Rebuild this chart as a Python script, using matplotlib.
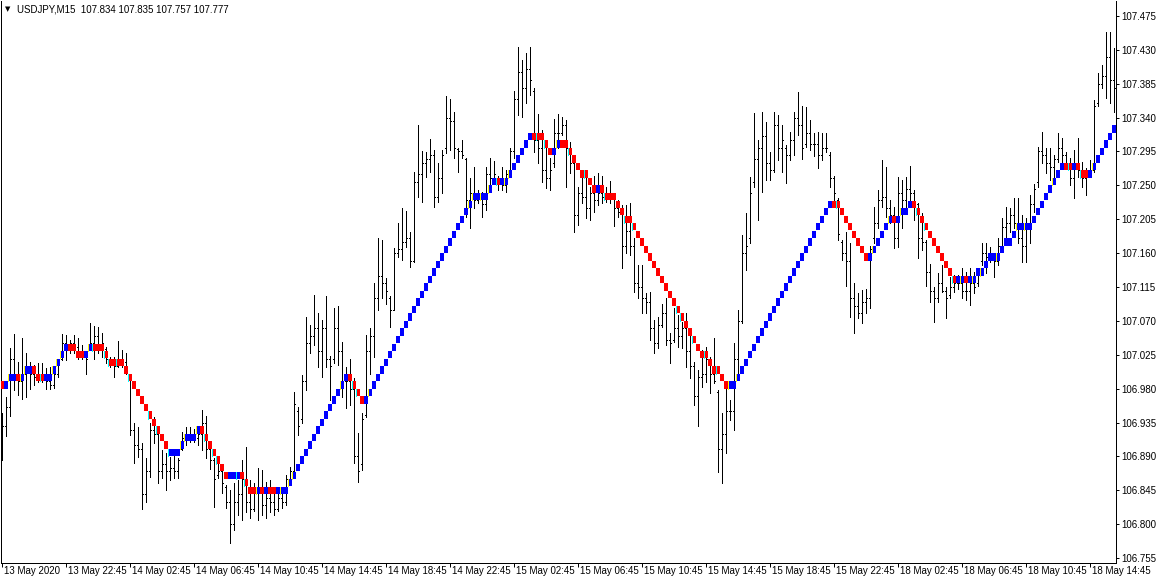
import matplotlib
matplotlib.use("Agg")
import matplotlib.pyplot as plt
import numpy as np
from matplotlib.transforms import offset_copy

# ---------------- data (USDJPY, M15) ----------------
bar_high = [
    106.947, 106.969, 107.034, 107.052, 107.015, 107.047, 107.027, 107.015, 107.011, 107.014,
    107.014, 107.007, 107.009, 107.005, 107.019, 107.052, 107.051, 107.044, 107.051, 107.047,
    107.038, 107.024, 107.067, 107.063, 107.062, 107.054, 107.035, 107.022, 107.022, 107.043,
    107.031, 107.027, 106.998, 106.934, 106.929, 106.908, 106.888, 106.934, 106.942, 106.931,
    106.898, 106.894, 106.889, 106.892, 106.888, 106.922, 106.929, 106.929, 106.927, 106.925,
    106.951, 106.943, 106.908, 106.888, 106.888, 106.876, 106.852, 106.845, 106.854, 106.858,
    106.885, 106.902, 106.858, 106.854, 106.874, 106.872, 106.856, 106.858, 106.845, 106.841,
    106.841, 106.865, 106.876, 106.975, 106.955, 106.998, 107.075, 107.064, 107.104, 107.081,
    107.071, 107.103, 107.024, 107.087, 107.090, 107.042, 107.009, 107.020, 106.994, 106.921,
    106.947, 107.051, 107.060, 107.120, 107.180, 107.177, 107.127, 107.103, 107.167, 107.200,
    107.220, 107.216, 107.188, 107.268, 107.330, 107.295, 107.294, 107.311, 107.297, 107.280,
    107.297, 107.369, 107.365, 107.347, 107.299, 107.310, 107.287, 107.260, 107.274, 107.244,
    107.241, 107.274, 107.286, 107.282, 107.263, 107.274, 107.270, 107.299, 107.376, 107.434,
    107.416, 107.426, 107.434, 107.380, 107.345, 107.323, 107.303, 107.286, 107.338, 107.345,
    107.341, 107.337, 107.307, 107.284, 107.248, 107.270, 107.261, 107.248, 107.263, 107.266,
    107.263, 107.248, 107.256, 107.240, 107.230, 107.224, 107.224, 107.226, 107.180, 107.144,
    107.144, 107.107, 107.108, 107.071, 107.075, 107.093, 107.100, 107.054, 107.087, 107.078,
    107.068, 107.081, 107.051, 107.015, 107.005, 107.031, 107.035, 107.022, 107.047, 106.978,
    106.947, 106.981, 106.965, 107.040, 107.084, 107.184, 107.213, 107.261, 107.346, 107.310,
    107.347, 107.334, 107.294, 107.347, 107.343, 107.330, 107.303, 107.321, 107.347, 107.374,
    107.356, 107.354, 107.337, 107.319, 107.321, 107.319, 107.319, 107.294, 107.263, 107.233,
    107.177, 107.188, 107.173, 107.120, 107.107, 107.111, 107.113, 107.170, 107.221, 107.244,
    107.284, 107.274, 107.230, 107.221, 107.261, 107.257, 107.261, 107.276, 107.244, 107.226,
    107.213, 107.177, 107.146, 107.115, 107.133, 107.144, 107.115, 107.128, 107.131, 107.131,
    107.140, 107.135, 107.140, 107.135, 107.140, 107.173, 107.173, 107.168, 107.160, 107.180,
    107.206, 107.221, 107.220, 107.233, 107.233, 107.210, 107.206, 107.237, 107.252, 107.301,
    107.321, 107.299, 107.299, 107.290, 107.319, 107.313, 107.294, 107.287, 107.297, 107.313,
    107.281, 107.273, 107.284, 107.363, 107.399, 107.410, 107.454, 107.454, 107.432, 107.430,
]
bar_low = [
    106.885, 106.917, 106.943, 106.978, 106.971, 106.966, 106.969, 106.979, 106.985, 106.989,
    106.989, 106.979, 106.979, 106.981, 106.995, 107.018, 107.018, 107.027, 107.028, 107.019,
    107.019, 106.999, 107.031, 107.019, 107.028, 107.022, 107.014, 107.009, 106.995, 107.009,
    107.009, 107.000, 106.918, 106.881, 106.889, 106.820, 106.829, 106.862, 106.908, 106.854,
    106.861, 106.845, 106.858, 106.861, 106.861, 106.898, 106.905, 106.909, 106.909, 106.905,
    106.898, 106.888, 106.873, 106.823, 106.861, 106.842, 106.821, 106.775, 106.792, 106.812,
    106.805, 106.816, 106.808, 106.818, 106.805, 106.812, 106.808, 106.816, 106.812, 106.818,
    106.821, 106.825, 106.856, 106.868, 106.918, 106.934, 106.978, 107.027, 107.038, 107.009,
    106.995, 107.009, 106.965, 107.014, 107.011, 106.969, 106.954, 106.958, 106.881, 106.856,
    106.872, 106.942, 107.000, 107.022, 107.084, 107.101, 107.093, 107.062, 107.084, 107.155,
    107.151, 107.168, 107.141, 107.148, 107.234, 107.228, 107.261, 107.268, 107.221, 107.228,
    107.240, 107.293, 107.297, 107.287, 107.268, 107.287, 107.208, 107.193, 107.220, 107.226,
    107.208, 107.217, 107.250, 107.254, 107.244, 107.244, 107.241, 107.266, 107.287, 107.343,
    107.341, 107.360, 107.370, 107.294, 107.280, 107.254, 107.246, 107.244, 107.274, 107.299,
    107.317, 107.248, 107.266, 107.188, 107.197, 107.226, 107.206, 107.204, 107.214, 107.224,
    107.226, 107.228, 107.226, 107.196, 107.208, 107.140, 107.160, 107.157, 107.108, 107.101,
    107.080, 107.080, 107.044, 107.028, 107.034, 107.062, 107.038, 107.014, 107.042, 107.035,
    107.034, 107.009, 106.994, 106.958, 106.931, 106.982, 106.989, 106.974, 106.987, 106.869,
    106.854, 106.894, 106.938, 106.925, 106.995, 107.067, 107.137, 107.173, 107.248, 107.204,
    107.241, 107.257, 107.257, 107.268, 107.284, 107.268, 107.253, 107.284, 107.290, 107.317,
    107.285, 107.301, 107.297, 107.289, 107.273, 107.284, 107.294, 107.248, 107.224, 107.177,
    107.151, 107.117, 107.075, 107.054, 107.074, 107.067, 107.080, 107.087, 107.173, 107.194,
    107.221, 107.208, 107.200, 107.167, 107.168, 107.193, 107.220, 107.224, 107.204, 107.153,
    107.164, 107.117, 107.095, 107.068, 107.095, 107.108, 107.074, 107.100, 107.108, 107.113,
    107.101, 107.098, 107.091, 107.107, 107.117, 107.144, 107.133, 107.148, 107.128, 107.144,
    107.161, 107.177, 107.188, 107.194, 107.173, 107.148, 107.148, 107.173, 107.214, 107.248,
    107.280, 107.266, 107.257, 107.261, 107.281, 107.277, 107.273, 107.250, 107.233, 107.261,
    107.248, 107.237, 107.261, 107.268, 107.356, 107.380, 107.366, 107.360, 107.347, 107.350,
]
bar_open = [
    106.900, 106.930, 106.955, 107.020, 106.995, 106.990, 107.000, 107.005, 107.000, 106.995,
    107.000, 106.995, 106.990, 106.985, 107.000, 107.020, 107.040, 107.035, 107.040, 107.035,
    107.030, 107.022, 107.033, 107.040, 107.050, 107.035, 107.033, 107.020, 107.015, 107.010,
    107.020, 107.015, 106.995, 106.925, 106.905, 106.900, 106.840, 106.870, 106.925, 106.920,
    106.870, 106.880, 106.870, 106.875, 106.870, 106.900, 106.915, 106.920, 106.915, 106.915,
    106.920, 106.935, 106.900, 106.885, 106.865, 106.870, 106.850, 106.830, 106.800, 106.830,
    106.840, 106.860, 106.830, 106.820, 106.845, 106.850, 106.825, 106.835, 106.830, 106.820,
    106.835, 106.830, 106.860, 106.870, 106.950, 106.940, 106.990, 107.040, 107.050, 107.060,
    107.030, 107.060, 107.020, 107.020, 107.060, 107.030, 106.990, 106.990, 106.980, 106.890,
    106.880, 106.945, 107.030, 107.050, 107.100, 107.130, 107.120, 107.100, 107.085, 107.160,
    107.165, 107.175, 107.180, 107.150, 107.255, 107.265, 107.280, 107.285, 107.290, 107.235,
    107.260, 107.300, 107.340, 107.335, 107.298, 107.295, 107.285, 107.230, 107.240, 107.230,
    107.235, 107.225, 107.265, 107.260, 107.260, 107.255, 107.250, 107.270, 107.295, 107.365,
    107.400, 107.380, 107.405, 107.375, 107.310, 107.300, 107.270, 107.260, 107.280, 107.320,
    107.320, 107.330, 107.300, 107.280, 107.210, 107.240, 107.235, 107.220, 107.240, 107.230,
    107.240, 107.235, 107.240, 107.235, 107.220, 107.215, 107.170, 107.190, 107.170, 107.120,
    107.115, 107.100, 107.095, 107.060, 107.040, 107.065, 107.080, 107.045, 107.045, 107.060,
    107.050, 107.060, 107.030, 107.010, 106.970, 106.995, 107.000, 107.020, 107.000, 106.975,
    106.900, 106.920, 106.950, 106.950, 107.020, 107.070, 107.160, 107.180, 107.255, 107.285,
    107.300, 107.315, 107.280, 107.270, 107.330, 107.300, 107.300, 107.290, 107.310, 107.340,
    107.330, 107.305, 107.320, 107.305, 107.305, 107.290, 107.300, 107.290, 107.260, 107.230,
    107.175, 107.160, 107.150, 107.100, 107.090, 107.080, 107.095, 107.100, 107.180, 107.200,
    107.230, 107.235, 107.220, 107.210, 107.180, 107.240, 107.230, 107.245, 107.240, 107.225,
    107.180, 107.175, 107.135, 107.110, 107.100, 107.120, 107.110, 107.105, 107.115, 107.120,
    107.120, 107.110, 107.110, 107.120, 107.120, 107.150, 107.160, 107.155, 107.155, 107.150,
    107.170, 107.195, 107.200, 107.210, 107.200, 107.180, 107.170, 107.200, 107.225, 107.255,
    107.295, 107.290, 107.280, 107.275, 107.285, 107.300, 107.290, 107.280, 107.260, 107.280,
    107.270, 107.260, 107.265, 107.270, 107.360, 107.385, 107.395, 107.420, 107.390, 107.380,
]
bar_close = [
    106.930, 106.955, 107.020, 106.995, 106.990, 107.000, 107.005, 107.000, 106.995, 107.000,
    106.995, 106.990, 106.985, 107.000, 107.015, 107.040, 107.035, 107.040, 107.035, 107.030,
    107.025, 107.020, 107.040, 107.050, 107.035, 107.040, 107.020, 107.015, 107.010, 107.020,
    107.015, 107.005, 106.925, 106.905, 106.900, 106.840, 106.870, 106.925, 106.920, 106.870,
    106.880, 106.870, 106.875, 106.870, 106.885, 106.915, 106.920, 106.915, 106.915, 106.920,
    106.935, 106.900, 106.885, 106.860, 106.870, 106.855, 106.830, 106.800, 106.830, 106.840,
    106.860, 106.830, 106.820, 106.845, 106.850, 106.825, 106.835, 106.830, 106.820, 106.835,
    106.830, 106.860, 106.870, 106.960, 106.930, 106.990, 107.040, 107.050, 107.060, 107.030,
    107.060, 107.020, 107.010, 107.060, 107.030, 106.990, 106.990, 106.980, 106.890, 106.870,
    106.940, 107.030, 107.050, 107.100, 107.130, 107.120, 107.110, 107.085, 107.160, 107.165,
    107.175, 107.180, 107.150, 107.255, 107.265, 107.280, 107.285, 107.290, 107.235, 107.260,
    107.290, 107.340, 107.335, 107.300, 107.295, 107.290, 107.230, 107.240, 107.230, 107.235,
    107.225, 107.265, 107.260, 107.265, 107.255, 107.250, 107.265, 107.295, 107.365, 107.400,
    107.380, 107.405, 107.390, 107.310, 107.300, 107.270, 107.260, 107.270, 107.320, 107.320,
    107.330, 107.300, 107.280, 107.210, 107.240, 107.235, 107.220, 107.240, 107.230, 107.240,
    107.235, 107.240, 107.235, 107.220, 107.215, 107.170, 107.190, 107.170, 107.120, 107.115,
    107.100, 107.095, 107.060, 107.040, 107.065, 107.080, 107.045, 107.040, 107.060, 107.050,
    107.060, 107.030, 107.010, 106.970, 106.995, 107.000, 107.020, 107.000, 106.990, 106.900,
    106.920, 106.950, 106.950, 107.020, 107.070, 107.160, 107.170, 107.240, 107.285, 107.300,
    107.315, 107.280, 107.270, 107.330, 107.300, 107.310, 107.290, 107.310, 107.340, 107.330,
    107.300, 107.320, 107.305, 107.305, 107.290, 107.300, 107.300, 107.260, 107.240, 107.185,
    107.160, 107.150, 107.100, 107.090, 107.080, 107.095, 107.100, 107.165, 107.200, 107.230,
    107.235, 107.220, 107.210, 107.180, 107.240, 107.230, 107.245, 107.240, 107.225, 107.180,
    107.175, 107.135, 107.110, 107.100, 107.120, 107.110, 107.100, 107.115, 107.120, 107.120,
    107.110, 107.110, 107.120, 107.115, 107.135, 107.160, 107.155, 107.155, 107.150, 107.170,
    107.195, 107.200, 107.210, 107.200, 107.180, 107.170, 107.200, 107.225, 107.245, 107.295,
    107.290, 107.280, 107.275, 107.285, 107.300, 107.290, 107.280, 107.260, 107.280, 107.270,
    107.260, 107.265, 107.270, 107.355, 107.385, 107.395, 107.420, 107.390, 107.380, 107.400,
]
# step-indicator level for each bar (box size 0.010)
ind_level = [
    106.985, 106.985, 106.995, 106.995, 106.995, 106.995, 107.005, 107.005, 107.005, 106.995,
    106.995, 106.995, 106.995, 107.005, 107.015, 107.025, 107.035, 107.035, 107.035, 107.025,
    107.025, 107.025, 107.035, 107.035, 107.035, 107.035, 107.025, 107.015, 107.015, 107.015,
    107.015, 107.005, 106.995, 106.985, 106.975, 106.965, 106.955, 106.945, 106.935, 106.925,
    106.915, 106.905, 106.895, 106.895, 106.895, 106.905, 106.915, 106.915, 106.915, 106.925,
    106.925, 106.915, 106.905, 106.895, 106.885, 106.875, 106.865, 106.865, 106.865, 106.865,
    106.865, 106.855, 106.845, 106.845, 106.845, 106.845, 106.845, 106.845, 106.845, 106.845,
    106.845, 106.845, 106.855, 106.865, 106.875, 106.885, 106.895, 106.905, 106.915, 106.925,
    106.935, 106.945, 106.955, 106.965, 106.975, 106.985, 106.995, 106.995, 106.985, 106.975,
    106.965, 106.965, 106.975, 106.985, 106.995, 107.005, 107.015, 107.025, 107.035, 107.045,
    107.055, 107.065, 107.075, 107.085, 107.095, 107.105, 107.115, 107.125, 107.135, 107.145,
    107.155, 107.165, 107.175, 107.185, 107.195, 107.205, 107.215, 107.225, 107.235, 107.235,
    107.235, 107.235, 107.245, 107.255, 107.255, 107.255, 107.255, 107.265, 107.275, 107.285,
    107.295, 107.305, 107.315, 107.315, 107.315, 107.315, 107.305, 107.295, 107.295, 107.305,
    107.305, 107.305, 107.295, 107.285, 107.275, 107.265, 107.265, 107.255, 107.245, 107.245,
    107.245, 107.235, 107.235, 107.235, 107.225, 107.215, 107.205, 107.205, 107.195, 107.185,
    107.175, 107.165, 107.155, 107.145, 107.135, 107.125, 107.115, 107.105, 107.095, 107.085,
    107.075, 107.065, 107.055, 107.045, 107.035, 107.025, 107.025, 107.015, 107.005, 107.005,
    106.995, 106.985, 106.985, 106.985, 106.995, 107.005, 107.015, 107.025, 107.035, 107.045,
    107.055, 107.065, 107.075, 107.085, 107.095, 107.105, 107.115, 107.125, 107.135, 107.145,
    107.155, 107.165, 107.175, 107.185, 107.195, 107.205, 107.215, 107.225, 107.225, 107.225,
    107.215, 107.205, 107.195, 107.185, 107.175, 107.165, 107.155, 107.155, 107.165, 107.175,
    107.185, 107.195, 107.205, 107.205, 107.205, 107.215, 107.215, 107.225, 107.225, 107.215,
    107.205, 107.195, 107.185, 107.175, 107.165, 107.155, 107.145, 107.135, 107.125, 107.125,
    107.125, 107.125, 107.125, 107.125, 107.135, 107.135, 107.145, 107.155, 107.155, 107.155,
    107.165, 107.175, 107.175, 107.185, 107.195, 107.195, 107.195, 107.195, 107.205, 107.215,
    107.225, 107.235, 107.245, 107.255, 107.265, 107.275, 107.275, 107.275, 107.275, 107.275,
    107.265, 107.265, 107.265, 107.275, 107.285, 107.295, 107.305, 107.315, 107.325, 107.335,
]
# U = up (blue box), D = down (red box)
ind_trend = (
    "DUUUDUUUDD" "DUUUUUUDDD" "DUUDDDDDDD" "DDDDDDDDDD" "DDUUUUUUUU"
    "DDDDDDDUUU" "DDDDUDUDDU" "UUUUUUUUUU" "UUUUUUUDDD" "DUUUUUUUUU"
    "UUUUUUUUUU" "UUUUUUUUUU" "UUUUDUUUUU" "UUUDDDDDUU" "DDDDDDDDDU"
    "DDDDDDDDDD" "DDDDDDDDDD" "DDDDDDDDDD" "DDUUUUUUUU" "UUUUUUUUUU"
    "UUUUUUUUDD" "DDDDDDDUUU" "UUUDUUUUDD" "DDDDDDDDDU" "UDUUUUUUUU"
    "UUUUUUUUUU" "UUUUUUDDUD" "DDUUUUUUUU"
)
# bars where the indicator shows its thin yellow / cyan signal strip
yellow_bars = [2, 5, 6, 13, 14, 15, 22, 45, 46, 49, 64, 70, 72, 73, 85, 92, 117, 118,
               120, 122, 126, 127, 139, 182, 184, 218, 222, 225, 240, 243, 245, 249,
               254, 256, 263, 273]
cyan_bars = [10, 23, 26, 27, 29, 32, 37, 39, 42, 51, 53, 54, 59, 61, 88, 89, 124, 134,
             136, 142, 146, 151, 156, 158, 169, 170, 173, 176, 179, 209, 229, 231, 238,
             267, 270]

time_ticks = list(range(0, 273, 16))
time_labels = ["13 May 2020", "13 May 22:45", "14 May 02:45", "14 May 06:45",
               "14 May 10:45", "14 May 14:45", "14 May 18:45", "14 May 22:45",
               "15 May 02:45", "15 May 06:45", "15 May 10:45", "15 May 14:45",
               "15 May 18:45", "15 May 22:45", "18 May 02:45", "18 May 06:45",
               "18 May 10:45", "18 May 14:45"]
price_ticks = [107.475, 107.430, 107.385, 107.340, 107.295, 107.250, 107.205, 107.160,
               107.115, 107.070, 107.025, 106.980, 106.935, 106.890, 106.845, 106.800,
               106.755]
title_text = "USDJPY,M15  107.834 107.835 107.757 107.777"

# ---------------- drawing ----------------
W, H = 1163, 583
DPI = 100
PX = 72.0 / DPI  # one pixel in points
fig = plt.figure(figsize=(W / DPI, H / DPI), dpi=DPI)
fig.patch.set_facecolor("white")
Lp, Rp, Tp, Bp = 1, 1116, 1, 563
ax = fig.add_axes([Lp / W, (H - Bp) / H, (Rp - Lp) / W, (Bp - Tp) / H])
ax.set_facecolor("white")

n = len(bar_high)
x = np.arange(n)
hi = np.array(bar_high); lo = np.array(bar_low)
op = np.array(bar_open); cl = np.array(bar_close)
lvl = np.array(ind_level)

ax.vlines(x, lo, hi, colors="black", linewidth=PX, antialiased=False, zorder=2)
ax.hlines(op, x - 0.3, x, colors="black", linewidth=PX, antialiased=False, zorder=2)
ax.hlines(cl, x, x + 0.3, colors="black", linewidth=PX, antialiased=False, zorder=2)

box_h = 0.0098
cols = ["#0000FF" if t == "U" else "#FF0000" for t in ind_trend]
ax.bar(x, box_h, bottom=lvl - box_h / 2, width=1.0, color=cols, linewidth=0,
       antialiased=False, zorder=3)
yb = np.array(yellow_bars); cb = np.array(cyan_bars)
ax.vlines(yb - 0.4, lvl[yb] - box_h / 2, lvl[yb] + box_h / 2, colors="#FFFF00",
          linewidth=PX, antialiased=False, zorder=4)
ax.vlines(cb - 0.4, lvl[cb] - box_h / 2, lvl[cb] + box_h / 2, colors="#00FFFF",
          linewidth=PX, antialiased=False, zorder=4)

ax.set_xlim(-0.25, 278.5)
ax.set_ylim(106.7484, 107.4949)

for s in ["left", "right", "bottom"]:
    ax.spines[s].set_color("black")
    ax.spines[s].set_linewidth(PX)
ax.spines["top"].set_visible(False)

FONT = "Liberation Sans"
FS = 7.0
ax.yaxis.tick_right()
ax.set_yticks(price_ticks)
ax.set_yticklabels([f"{v:.3f}" for v in price_ticks], fontsize=FS, family=FONT)
ax.tick_params(axis="y", direction="out", length=3 * PX, width=PX, pad=2 * PX,
               colors="black")

ax.set_xticks(time_ticks)
ax.tick_params(axis="x", direction="out", length=4 * PX, width=PX, labelbottom=False)
tr = offset_copy(ax.get_xaxis_transform(), fig=fig, x=2, y=-8, units="dots")
for t, lab in zip(time_ticks, time_labels):
    ax.text(t, 0, lab, transform=tr, ha="left", va="center", fontsize=FS,
            family=FONT, color="black", clip_on=False)

fig.text(5 / W, 1 - 9 / H, "\u25BC", fontsize=5, family="DejaVu Sans",
         va="center", ha="left")
fig.text(17 / W, 1 - 9 / H, title_text, fontsize=FS, family=FONT, va="center", ha="left")

fig.savefig("out.png", dpi=DPI, facecolor="white")
